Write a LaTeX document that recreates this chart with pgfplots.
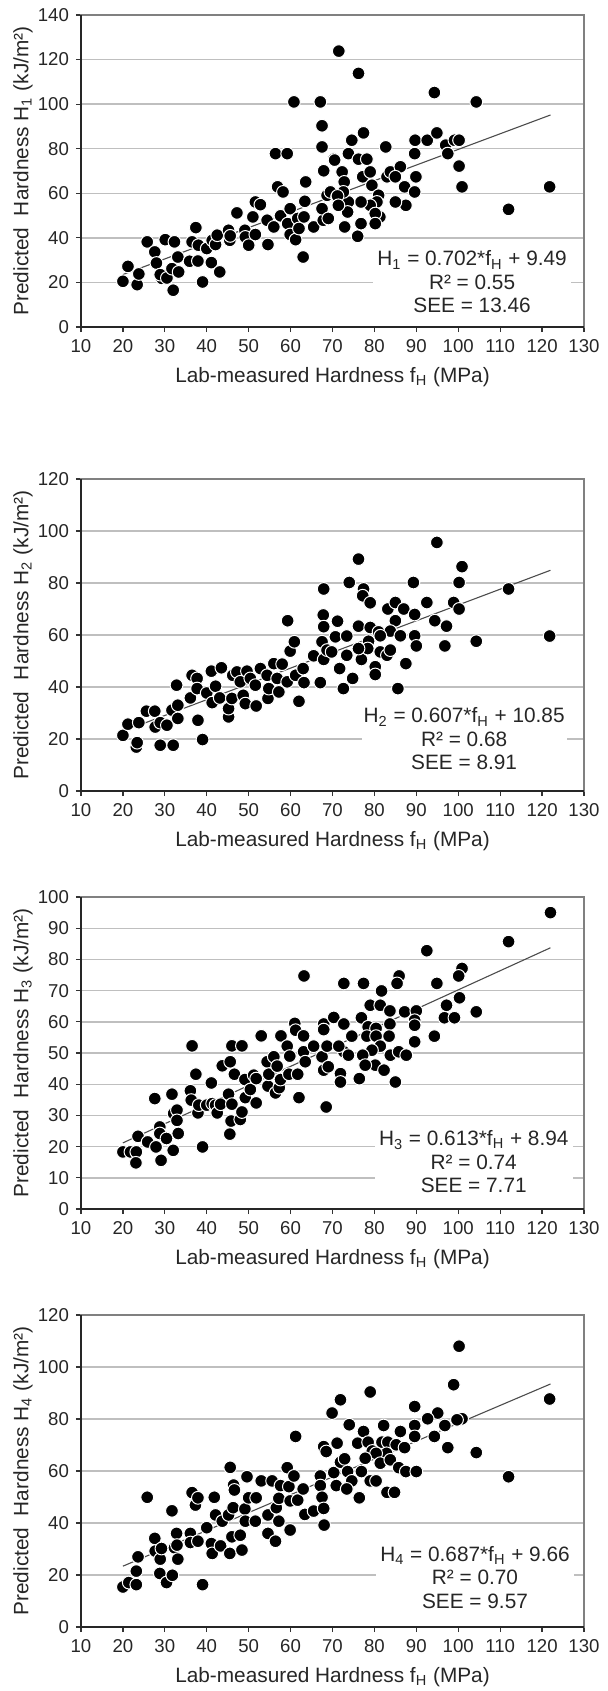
\documentclass[border=0pt]{standalone}
\usepackage{pgfplots}
\pgfplotsset{compat=1.18}
\usepackage{fontspec}
\setmainfont{Liberation Sans}
\tikzset{eqn/.style={fill=white, align=center, inner sep=1pt, minimum width=99pt, text=black!85, font=\fontsize{10.4}{11.75}\selectfont}}
\pgfplotsset{
  dots/.style={only marks, mark=*, mark size=3.2pt, mark options={fill=black, draw=white, line width=0.5pt}},
  trend/.style={no marks, draw=black!70, line width=0.55pt},
  panel/.style={
    scale only axis, width=251.5pt, height=156pt,
    xmin=10, xmax=130, xtick={10,20,...,130}, ymin=0,
    axis line style={draw=gray, line width=0.9pt},
    ymajorgrids, grid style={draw=gray!50, line width=0.7pt},
    tick align=outside, major tick length=2.5pt,
    tick style={draw=black!80, line width=0.6pt},
    xtick pos=bottom, ytick pos=left,
    tick label style={font=\fontsize{9.3}{11}\selectfont, text=black!85},
    /pgf/number format/assume math mode=true,
    label style={font=\fontsize{10.4}{12.5}\selectfont, text=black!85},
    xlabel={Lab-measured Hardness f\textsubscript{H} (MPa)},
    xlabel style={at={(axis description cs:0.5,-0.1603)}, anchor=center},
    ylabel style={at={(axis description cs:-0.1153,0.5)}, anchor=center},
    after end axis/.code={\draw[black!85, line width=1pt] (rel axis cs:0,1) -- (rel axis cs:0,0) -- (rel axis cs:1,0);},
  },
}
\begin{document}
\begin{tikzpicture}
\path[use as bounding box] (0,0) rectangle (303.5pt,-845.5pt);
% ---------------- Panel 1 ----------------
\begin{axis}[panel, at={(40.5pt,-163.5pt)}, anchor=south west,
  ymax=140, ytick={0,20,...,140},
  ylabel={Predicted\ \ Hardness H\textsubscript{1} (kJ/m²)}]
\addplot[dots] table {
x y
20.0 20.5
21.2 27.2
23.4 19.0
23.8 23.8
25.8 38.2
27.6 33.7
28.0 28.7
29.3 21.8
28.9 23.5
30.1 39.2
30.5 22.0
32.0 16.5
32.3 38.2
31.7 26.2
33.1 31.4
33.3 24.7
35.9 29.5
36.5 38.2
37.4 44.6
37.9 29.6
38.0 36.7
39.0 20.2
40.0 35.2
41.1 28.9
41.3 38.9
42.1 37.0
42.5 41.2
43.1 24.7
45.2 43.4
45.5 38.9
45.6 40.9
47.2 51.2
49.1 43.4
49.2 40.4
50.0 36.7
51.0 49.4
51.6 41.5
51.6 56.1
52.8 54.9
54.6 37.0
54.4 47.9
56.0 44.9
56.4 77.8
56.9 62.9
57.6 49.9
58.2 60.6
59.2 77.8
59.3 46.4
59.9 53.1
59.9 41.5
60.8 101.0
61.2 39.2
61.7 48.7
62.0 44.2
63.0 31.4
63.2 49.4
63.4 56.4
63.6 65.1
65.5 44.9
67.1 101.0
67.5 90.3
67.5 80.8
67.8 47.9
67.5 53.1
67.9 70.1
68.7 59.1
69.5 60.6
70.3 75.3
71.5 123.8
71.1 58.4
76.2 113.8
94.3 105.2
104.3 101.0
77.4 87.1
74.6 83.8
82.7 80.8
89.7 83.8
92.6 83.8
94.9 87.1
97.0 81.6
97.5 77.8
99.1 83.8
100.2 83.8
89.6 77.8
100.2 72.2
100.9 62.9
112.0 52.8
121.8 62.9
70.5 74.9
72.3 69.6
72.8 65.1
73.8 77.8
76.2 75.3
78.2 75.3
77.2 67.4
79.0 69.6
79.4 63.6
81.0 59.1
83.0 67.4
83.8 69.6
86.2 71.9
85.0 67.4
87.2 62.9
89.9 67.4
89.6 60.6
87.5 54.6
85.0 56.1
80.6 56.1
79.0 54.6
81.3 49.4
80.2 50.9
76.8 56.1
73.8 56.1
73.6 51.6
72.6 60.6
71.2 58.8
71.4 54.6
76.8 46.4
72.9 44.9
76.0 40.7
80.2 46.4
69.0 48.7
};
\addplot[trend] coordinates {(20,23.53) (122,95.13)};
\node[eqn] at (axis cs:103.3,20.2) {H\textsubscript{1} = 0.702*f\textsubscript{H} + 9.49\\R² = 0.55\\SEE = 13.46};
\end{axis}
% ---------------- Panel 2 ----------------
\begin{axis}[panel, at={(40.5pt,-395.5pt)}, anchor=south west,
  ymax=120, ytick={0,20,...,120},
  ylabel={Predicted\ \ Hardness H\textsubscript{2} (kJ/m²)}]
\addplot[dots] table {
x y
20.0 21.4
21.2 25.7
23.2 16.9
23.4 18.6
23.8 26.3
25.6 30.7
27.6 30.7
27.7 24.6
28.9 26.3
28.9 17.6
30.5 25.3
32.0 17.6
31.7 31.1
32.8 40.7
33.1 33.0
33.1 27.9
36.1 35.8
36.5 44.5
37.7 43.3
37.7 39.4
37.9 27.2
39.0 19.8
40.0 37.7
41.1 46.1
41.3 34.0
42.1 40.3
43.1 35.8
43.5 47.4
45.2 28.5
45.2 31.7
46.0 35.6
46.2 44.5
47.2 45.8
48.0 42.0
48.7 36.8
49.2 33.6
49.6 46.1
50.4 43.3
51.6 40.7
51.8 32.7
52.8 47.1
54.6 35.6
54.8 39.4
54.4 44.5
56.0 49.0
56.8 43.3
57.2 38.1
58.0 48.8
59.2 42.0
59.3 65.5
59.9 53.8
60.9 57.4
61.2 44.5
62.0 34.5
63.0 47.1
63.2 41.7
65.5 52.0
67.1 41.7
67.5 57.4
67.8 67.7
67.9 77.7
67.9 63.2
67.9 50.6
68.7 54.2
70.7 59.3
71.2 65.3
71.7 47.1
72.6 39.4
94.9 95.6
76.2 89.2
100.9 86.3
74.0 80.2
89.3 80.2
100.2 80.2
112.0 77.7
77.4 77.7
77.2 75.1
79.0 72.4
92.5 72.5
98.9 72.5
83.2 70.0
85.0 72.5
87.0 70.0
89.6 67.9
100.2 70.0
94.4 65.5
97.2 63.4
85.0 65.5
76.2 63.4
79.0 62.9
81.0 61.2
83.8 61.5
86.2 59.7
89.6 59.7
90.0 55.8
96.8 55.8
104.3 57.6
121.8 59.6
81.4 59.7
78.6 57.6
73.4 59.6
69.8 53.5
73.4 52.2
76.9 50.6
78.4 54.8
80.2 47.8
80.2 44.8
81.4 53.5
83.0 52.2
83.8 54.2
87.5 49.0
74.8 43.3
85.6 39.4
76.2 54.8
};
\addplot[trend] coordinates {(20,22.99) (122,84.90)};
\node[eqn] at (axis cs:101.4,20.0) {H\textsubscript{2} = 0.607*f\textsubscript{H} + 10.85\\R² = 0.68\\SEE = 8.91};
\end{axis}
% ---------------- Panel 3 ----------------
\begin{axis}[panel, at={(40.5pt,-604.5pt)}, anchor=south west,
  ymax=100, ytick={0,10,...,100},
  ylabel={Predicted\ \ Hardness H\textsubscript{3} (kJ/m²)}]
\addplot[dots] table {
x y
20.0 18.3
21.8 18.3
23.2 18.3
23.1 14.8
23.6 23.3
25.9 21.5
27.6 35.4
27.9 19.9
28.8 26.3
28.8 24.2
29.1 15.6
30.4 22.6
31.7 36.8
32.0 18.8
32.1 30.6
32.9 31.7
32.9 28.4
33.2 24.2
36.1 37.9
36.5 52.3
36.3 34.9
37.4 43.2
37.9 30.8
38.1 33.3
39.0 19.9
40.0 33.3
41.1 40.4
41.3 33.8
42.1 33.3
42.5 30.8
43.3 33.6
43.7 45.9
45.2 36.8
45.6 47.2
45.5 24.0
45.8 28.2
46.0 52.3
46.0 33.6
46.6 43.2
48.0 28.7
48.4 52.3
48.4 31.1
49.1 41.5
49.2 35.7
50.4 38.3
51.2 42.9
51.8 41.8
51.8 34.0
53.0 55.5
54.4 47.2
54.6 39.4
54.8 43.2
56.0 48.8
56.4 37.2
56.8 45.8
57.3 38.9
57.6 41.5
57.7 55.5
59.2 52.2
59.8 49.0
59.6 43.2
61.0 59.5
61.2 57.3
61.7 43.2
62.0 35.7
63.1 55.5
63.1 50.4
63.5 47.2
63.2 74.7
65.5 52.2
67.5 48.8
67.9 44.5
67.9 59.3
67.9 57.5
68.7 52.2
68.5 32.7
70.3 61.4
69.0 45.6
122.0 95.0
112.0 85.7
92.5 82.8
100.9 77.1
100.1 74.7
85.9 74.7
85.4 72.3
72.7 72.3
77.4 72.3
94.9 72.3
81.7 69.9
100.3 67.7
97.2 65.3
79.0 65.3
81.4 65.3
87.2 63.2
90.0 63.5
83.7 63.5
104.3 63.2
96.7 61.3
99.1 61.3
89.6 60.5
89.6 58.9
76.9 61.3
72.7 59.3
78.5 58.4
80.4 57.9
83.7 59.3
94.3 55.4
74.6 55.4
78.2 55.4
80.4 55.4
83.5 55.4
89.6 53.6
81.4 52.2
79.4 50.9
72.7 50.4
71.5 52.2
73.8 49.3
77.2 49.3
83.8 49.3
85.8 50.4
87.6 49.3
80.2 46.1
77.8 46.1
82.3 44.5
71.9 43.4
71.9 40.7
76.4 41.8
85.0 40.7
};
\addplot[trend] coordinates {(20,21.20) (122,83.73)};
\node[eqn] at (axis cs:103.7,15.1) {H\textsubscript{3} = 0.613*f\textsubscript{H} + 8.94\\R² = 0.74\\SEE = 7.71};
\end{axis}
% ---------------- Panel 4 ----------------
\begin{axis}[panel, at={(40.5pt,-813.5pt)}, anchor=south west,
  ymax=120, ytick={0,20,...,120},
  ylabel={Predicted\ \ Hardness H\textsubscript{4} (kJ/m²)}]
\addplot[dots] table {
x y
20.0 15.4
21.4 17.1
23.2 16.3
23.2 21.5
23.6 27.0
25.8 49.9
27.6 34.1
27.7 29.2
28.9 26.1
28.8 20.6
29.2 30.2
30.4 17.1
31.7 44.7
31.8 19.9
32.3 30.5
32.8 36.0
33.1 26.1
32.9 31.5
36.1 36.0
36.1 32.5
36.5 51.7
37.3 46.9
37.9 49.7
37.9 33.0
39.0 16.3
40.0 38.2
41.1 32.1
41.3 28.3
41.8 49.9
42.1 43.1
43.3 31.2
43.7 40.7
45.2 43.1
45.5 28.3
45.6 61.4
46.0 34.7
46.3 45.9
46.4 54.6
46.6 52.7
48.0 35.3
48.4 29.6
49.1 45.4
49.2 40.7
49.6 57.8
50.0 49.7
51.8 49.7
51.6 40.7
53.0 56.2
54.6 43.1
54.6 36.0
55.6 56.2
56.4 33.0
56.6 45.9
57.2 40.7
57.6 54.4
57.2 49.5
59.2 61.3
59.6 54.0
59.9 48.5
59.9 37.3
60.8 58.1
61.2 73.3
61.7 48.8
63.0 53.1
63.4 43.3
65.5 44.6
67.1 58.1
67.1 54.4
67.5 49.9
67.9 45.6
68.0 39.2
67.9 69.4
68.5 67.5
69.9 82.3
70.3 59.4
71.1 70.7
71.9 87.4
70.9 54.4
71.9 63.4
100.2 108.0
98.9 93.2
79.0 90.4
121.8 87.7
89.6 84.8
95.1 82.3
92.7 80.1
100.9 80.1
99.7 79.7
74.0 77.8
89.6 77.5
82.2 77.5
96.8 77.5
77.4 75.2
86.2 75.2
89.6 73.3
94.3 73.3
76.0 70.7
78.5 71.1
81.8 71.1
83.2 71.1
85.2 70.1
87.2 69.0
97.5 69.0
104.3 67.1
79.5 67.7
82.9 66.8
80.4 66.8
72.9 64.7
77.8 64.9
81.4 63.0
83.8 64.3
76.9 59.8
73.6 59.8
85.8 61.3
87.5 59.8
90.0 59.8
112.0 57.8
79.0 56.2
80.4 56.2
74.6 56.2
73.4 53.1
76.4 49.7
83.0 51.8
84.8 51.8
};
\addplot[trend] coordinates {(20,23.40) (122,93.47)};
\node[eqn] at (axis cs:104.0,19.2) {H\textsubscript{4} = 0.687*f\textsubscript{H} + 9.66\\R² = 0.70\\SEE = 9.57};
\end{axis}
\end{tikzpicture}
\end{document}
